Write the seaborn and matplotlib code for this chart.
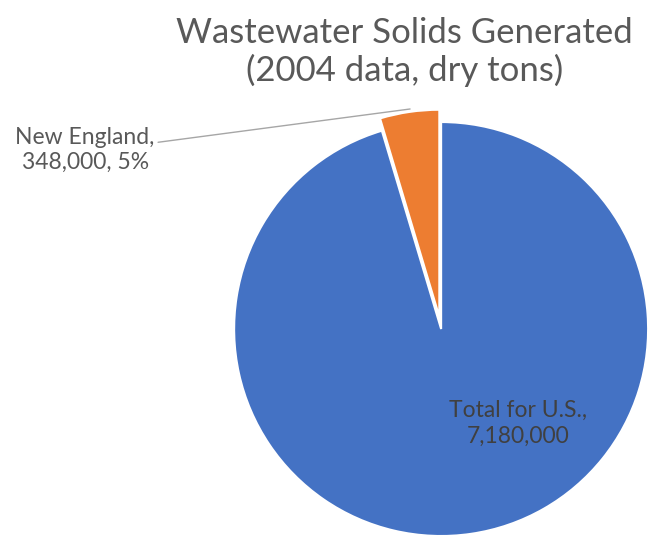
import matplotlib
matplotlib.use("Agg")
import matplotlib.pyplot as plt
import seaborn as sns

# data
categories = ["Total for U.S.", "New England"]
tons = [7180000, 348000]
colors = ["#4472C4", "#ED7D31"]

sns.set_theme(style="white")
plt.rcParams['font.family'] = ['Lato', 'DejaVu Sans']

fig = plt.figure(figsize=(6.54, 5.35), dpi=100)
ax = fig.add_axes([0.358, -0.002, 0.633, 0.774])

wedges, _ = ax.pie(tons, colors=colors, startangle=90, counterclock=False,
                   explode=[0, 0.06], radius=1,
                   wedgeprops=dict(edgecolor="white", linewidth=1.5))
for w in wedges:
    w.set_clip_on(False)
ax.set_xlim(-1, 1)
ax.set_ylim(-1, 1)
ax.set_aspect("equal")
ax.axis("off")

share = tons[1] / sum(tons)
ax.annotate("%s,\n%s, %d%%" % (categories[1], format(tons[1], ","), round(share * 100)),
            xy=(-0.15, 1.063), xytext=(-1.72, 0.865), textcoords="data",
            ha="center", va="center", fontsize=16.5, color="#595959",
            linespacing=1.2, annotation_clip=False,
            arrowprops=dict(arrowstyle="-", color="#A6A6A6", lw=1,
                            relpos=(1.0, 0.66), shrinkA=0, shrinkB=0))
ax.text(0.372, -0.454, "%s,\n%s" % (categories[0], format(tons[0], ",")),
        ha="center", va="center", fontsize=16.5, color="#404040", linespacing=1.3)

fig.text(0.619, 0.968, "Wastewater Solids Generated\n(2004 data, dry tons)",
         ha="center", va="top", fontsize=25, color="#595959", linespacing=1.18)

fig.savefig("out.png", dpi=100)
